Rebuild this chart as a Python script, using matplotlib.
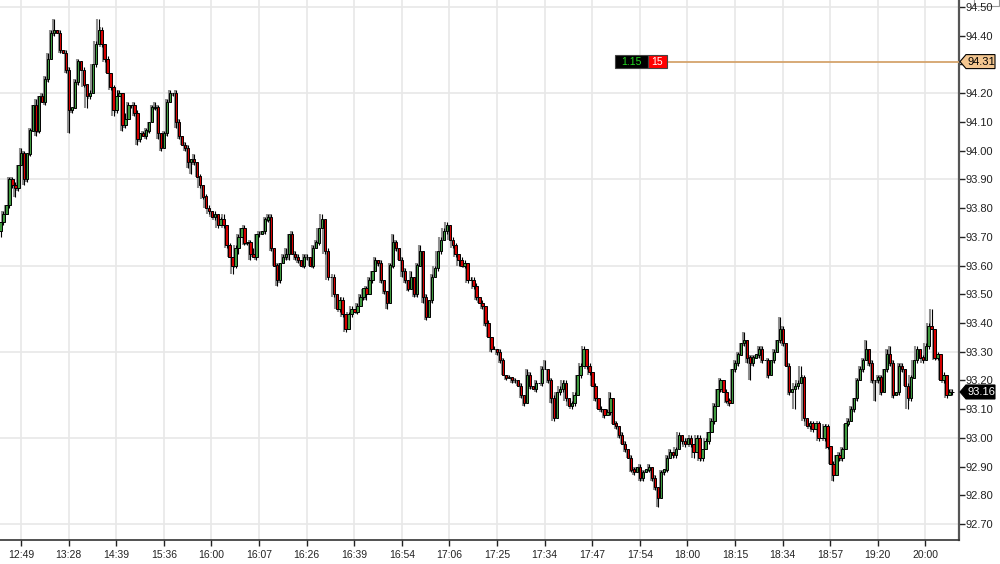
import numpy as np
import matplotlib
matplotlib.use('Agg')
import matplotlib.pyplot as plt
from matplotlib.patches import Polygon, Rectangle

# closes, one per bar (opens = previous close)
first_open = 93.72
closes = [
    93.75, 93.78, 93.81, 93.90, 93.88, 93.87, 93.95, 93.99, 93.90, 93.99,
    94.07, 94.16, 94.07, 94.19, 94.17, 94.25, 94.32, 94.41, 94.42, 94.41,
    94.35, 94.34, 94.28, 94.14, 94.15, 94.24, 94.31, 94.28, 94.23, 94.19,
    94.20, 94.30, 94.37, 94.42, 94.37, 94.32, 94.27, 94.22, 94.14, 94.19,
    94.20, 94.09, 94.11, 94.16, 94.16, 94.13, 94.04, 94.06, 94.05, 94.07,
    94.10, 94.15, 94.15, 94.06, 94.01, 94.06, 94.17, 94.20, 94.20, 94.10,
    94.05, 94.02, 94.01, 93.96, 93.97, 93.96, 93.91, 93.88, 93.84, 93.80,
    93.79, 93.77, 93.78, 93.74, 93.76, 93.74, 93.67, 93.63, 93.60, 93.66,
    93.70, 93.73, 93.68, 93.68, 93.64, 93.63, 93.71, 93.71, 93.72, 93.76,
    93.77, 93.66, 93.60, 93.55, 93.61, 93.63, 93.64, 93.71, 93.64, 93.63,
    93.62, 93.60, 93.63, 93.63, 93.60, 93.66, 93.68, 93.73, 93.76, 93.65,
    93.56, 93.56, 93.50, 93.45, 93.48, 93.43, 93.38, 93.43, 93.45, 93.44,
    93.46, 93.49, 93.52, 93.50, 93.55, 93.58, 93.62, 93.61, 93.55, 93.51,
    93.47, 93.60, 93.68, 93.66, 93.62, 93.58, 93.55, 93.52, 93.56, 93.50,
    93.60, 93.65, 93.49, 93.42, 93.48, 93.56, 93.59, 93.65, 93.69, 93.72,
    93.74, 93.69, 93.67, 93.64, 93.62, 93.60, 93.61, 93.55, 93.55, 93.53,
    93.49, 93.47, 93.46, 93.40, 93.35, 93.31, 93.31, 93.30, 93.27, 93.22,
    93.21, 93.21, 93.20, 93.20, 93.18, 93.15, 93.12, 93.22, 93.18, 93.17,
    93.19, 93.19, 93.24, 93.24, 93.20, 93.14, 93.07, 93.16, 93.17, 93.19,
    93.14, 93.11, 93.12, 93.15, 93.22, 93.25, 93.31, 93.25, 93.23, 93.18,
    93.14, 93.10, 93.10, 93.08, 93.09, 93.14, 93.05, 93.04, 93.01, 92.98,
    92.96, 92.93, 92.89, 92.88, 92.90, 92.86, 92.88, 92.89, 92.90, 92.86,
    92.83, 92.79, 92.88, 92.89, 92.93, 92.95, 92.94, 92.96, 93.01, 92.99,
    92.98, 93.00, 92.98, 92.95, 93.00, 92.93, 92.96, 92.99, 93.02, 93.06,
    93.11, 93.17, 93.20, 93.16, 93.13, 93.12, 93.24, 93.26, 93.29, 93.33,
    93.34, 93.28, 93.26, 93.28, 93.29, 93.31, 93.27, 93.27, 93.22, 93.27,
    93.30, 93.34, 93.38, 93.33, 93.25, 93.16, 93.17, 93.18, 93.19, 93.21,
    93.07, 93.04, 93.05, 93.03, 93.05, 93.00, 93.00, 93.04, 92.97, 92.91,
    92.87, 92.94, 92.93, 92.96, 93.05, 93.06, 93.10, 93.14, 93.20, 93.24,
    93.27, 93.31, 93.26, 93.20, 93.20, 93.21, 93.16, 93.24, 93.29, 93.26,
    93.15, 93.16, 93.25, 93.24, 93.18, 93.14, 93.21, 93.27, 93.31, 93.28,
    93.27, 93.32, 93.39, 93.38, 93.28, 93.29, 93.20, 93.22, 93.15, 93.16,
    93.16,
]

# wick lengths beyond the body, in cents, one digit per bar
wick_up = ("0101110210 1020112140 1011011010 1014101012 1021011011 "
           "0121011101 1011020101 1010120101 1010120101 1101012011 "
           "1011011020 1010110110 1101101010 0131011020 1201011011 "
           "1011011011 1010101011 0101010210 1013011011 1011011010 "
           "1010120101 1011011010 1010110110 1010110101 1010110110 "
           "3011011010 1041010114 1011010110 1011011011 1301011023 "
           "1011011010 1116010101 1")
wick_dn = ("2101131021 1021011010 1018101014 1010110121 0210112101 "
           "1012101012 1012410110 1011011031 2011201101 1102101201 "
           "1011010101 1010111010 1012010111 2011021101 1021010110 "
           "1011201101 1011010110 1011011010 1010121011 1011010110 "
           "1011010110 1011011011 1301101101 1012011010 1010110110 "
           "1261011010 1011010710 1011010110 2011010110 1011711011 "
           "1011041010 1010110110 1")

time_labels = ['12:49', '13:28', '14:39', '15:36', '16:00', '16:07', '16:26',
               '16:39', '16:54', '17:06', '17:25', '17:34', '17:47', '17:54',
               '18:00', '18:15', '18:34', '18:57', '19:20', '20:00']

last_price = 93.16
line_price = 94.31
tag_left = '1.15'
tag_right = '15'

# ---------------------------------------------------------------
c = np.array(closes)
o = np.concatenate([[first_open], c[:-1]])
up = np.array([int(d) for d in wick_up.replace(' ', '')]) / 100.0
dn = np.array([int(d) for d in wick_dn.replace(' ', '')]) / 100.0
hi = np.maximum(o, c) + up
lo = np.minimum(o, c) - dn
x = np.arange(len(c))

fig = plt.figure(figsize=(10, 5.64), dpi=100)
ax = fig.add_axes([0, 24 / 564, 959 / 1000, 540 / 564])

ax.set_xlim(-0.07, 322.3)
ax.set_ylim(92.6448, 94.5244)

# grid
ax.set_xticks(7 + 16 * np.arange(len(time_labels)))
ax.set_xticklabels(time_labels)
ax.grid(axis='x', color='#e8e8e8', lw=1.2, zorder=0)
for lvl in np.arange(92.70, 94.51, 0.30):
    ax.axhline(lvl, color='#e8e8e8', lw=1.2, zorder=0)

# candles: gray shadow, black wick, coloured body
ax.vlines(x - 0.35, lo, hi, color='#8f8f8f', lw=1.5, zorder=2)
ax.vlines(x + 0.1, lo, hi, color='black', lw=0.8, zorder=3)
cols = np.where(c >= o, '#3f9a3f', '#d40000')
ax.bar(x + 0.1, np.abs(c - o) + 0.0005, bottom=np.minimum(o, c), width=0.78,
       color=cols, edgecolor='black', linewidth=0.7, zorder=4)

# axes styling
for s in ['left', 'top']:
    ax.spines[s].set_visible(False)
ax.spines['right'].set_color('#555555')
ax.spines['right'].set_linewidth(1.6)
ax.spines['bottom'].set_color('#333333')
ax.spines['bottom'].set_linewidth(1.2)

ylevels = np.arange(92.70, 94.51, 0.10)
ylabels = ['%.2f' % v for v in ylevels]
ylabels[ylabels.index('%.2f' % 94.30)] = ''  # hidden under the order tag
ax.yaxis.tick_right()
ax.set_yticks(np.round(ylevels, 2))
ax.set_yticklabels(ylabels)
ax.tick_params(axis='y', length=4, pad=1, labelsize=8, colors='#222222',
               width=1)
ax.tick_params(axis='x', length=4, pad=3, labelsize=7.5, colors='#222222',
               width=1)
for t in ax.get_xticklabels() + ax.get_yticklabels():
    t.set_family('Liberation Sans')

# horizontal line with order tag
ax.axhline(line_price, xmin=667 / 959, xmax=1, color='#d4a46c', lw=1.3,
           zorder=5)
tr = ax.get_yaxis_transform()
h = 13 / 287.3
ax.add_patch(Rectangle((615 / 959, line_price - h / 2), 33 / 959, h,
                       transform=tr, facecolor='black', edgecolor='#444444',
                       lw=0.8, zorder=6))
ax.add_patch(Rectangle((648 / 959, line_price - h / 2), 19 / 959, h,
                       transform=tr, facecolor='#ff0000', edgecolor='#444444',
                       lw=0.8, zorder=6))
ax.text(631.5 / 959, line_price, tag_left, transform=tr, color='#22dd22',
        fontsize=7.5, ha='center', va='center', family='Liberation Sans',
        zorder=7)
ax.text(657.5 / 959, line_price, tag_right, transform=tr, color='white',
        fontsize=7.5, ha='center', va='center', family='Liberation Sans',
        zorder=7)


# price tags on the axis (drawn in pixel coordinates)
def price_tag(price, face, txt_color):
    yp = ax.transData.transform((0, price))[1]
    x0 = 960
    pts = [(x0, yp), (x0 + 6, yp + 7), (x0 + 35, yp + 7),
           (x0 + 35, yp - 7), (x0 + 6, yp - 7)]
    fig.patches.append(Polygon(pts, closed=True, transform=None,
                               facecolor=face, edgecolor='black', lw=0.8,
                               figure=fig, zorder=10))
    fig.text((x0 + 21) / 1000, yp / 564, '%.2f' % price, color=txt_color,
             fontsize=8, ha='center', va='center', family='Liberation Sans',
             zorder=11)


price_tag(line_price, '#f3c690', 'black')
price_tag(last_price, 'black', 'white')

# small button in the top right corner, behind the tick labels
fig.patches.append(Rectangle((974 / 1000, 558 / 564), 25 / 1000, 8 / 564,
                             transform=fig.transFigure, facecolor='white',
                             edgecolor='#999999', lw=0.8, figure=fig,
                             zorder=-1))

fig.savefig('out.png', dpi=100, facecolor='white')
